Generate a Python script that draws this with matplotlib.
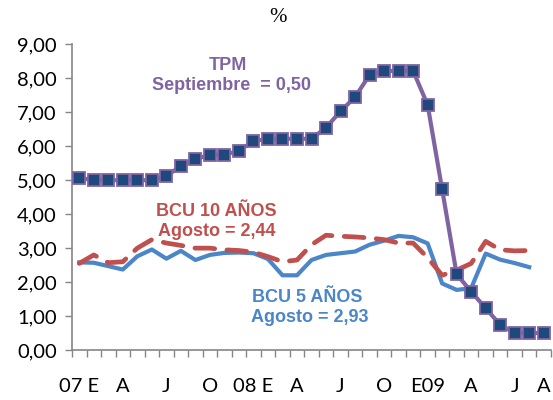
import matplotlib
matplotlib.use("Agg")
import matplotlib.pyplot as plt
from matplotlib.ticker import FixedLocator, FuncFormatter

# Monthly categories, Jan 2007 - Sep 2009
month_labels = ["07 E", "", "", "A", "", "", "J", "", "", "O", "", "",
                "08 E", "", "", "A", "", "", "J", "", "", "O", "", "",
                "E09", "", "", "A", "", "", "J", "", "A"]

# Tasa de política monetaria (%)
tpm = [5.07, 5.00, 5.00, 5.00, 5.00, 5.00, 5.12, 5.42, 5.62, 5.75, 5.75, 5.87,
       6.15, 6.22, 6.22, 6.22, 6.22, 6.55, 7.03, 7.45, 8.10, 8.22, 8.22, 8.22,
       7.22, 4.73, 2.23, 1.72, 1.23, 0.74, 0.50, 0.50, 0.50]

# BCU 10 años (%)
bcu10 = [2.55, 2.80, 2.57, 2.60, 3.00, 3.25, 3.15, 3.08, 3.00, 3.00, 2.95, 2.93,
         2.88, 2.75, 2.60, 2.65, 3.10, 3.38, 3.35, 3.33, 3.30, 3.25, 3.15, 3.15,
         2.72, 2.20, 2.35, 2.55, 3.20, 2.95, 2.92, 2.93]

# BCU 5 años (%)
bcu5 = [2.58, 2.57, 2.47, 2.37, 2.76, 2.96, 2.69, 2.92, 2.65, 2.80, 2.86, 2.87,
        2.85, 2.68, 2.20, 2.20, 2.65, 2.80, 2.85, 2.90, 3.10, 3.22, 3.36, 3.32,
        3.14, 1.96, 1.77, 1.82, 2.84, 2.66, 2.56, 2.44]

purple = "#8064A2"
navy = "#1F497D"
red = "#C0504D"
blue = "#4A86C8"
axis_grey = "#868686"

fig = plt.figure(figsize=(5.53, 4.0), dpi=100)
ax = fig.add_axes([0.1302, 0.125, 0.8662, 0.764])

x_all = list(range(len(month_labels)))

ax.plot(range(len(bcu5)), bcu5, color=blue, lw=3.0, solid_joinstyle="round", zorder=2)
ax.plot(range(len(bcu10)), bcu10, color=red, lw=3.4, dashes=(4.2, 2.6),
        dash_capstyle="round", zorder=2)
ax.plot(range(len(tpm)), tpm, color=purple, lw=3.0, marker="s", ms=8.2,
        mfc=navy, mec=purple, mew=1.3, zorder=3)

ax.set_xlim(-0.5, len(month_labels) - 0.5)
ax.set_ylim(0, 9)

# category labels centred, tick marks on category boundaries
ax.xaxis.set_major_locator(FixedLocator(x_all))
ax.set_xticklabels(month_labels)
ax.xaxis.set_minor_locator(FixedLocator([i - 0.5 for i in range(len(month_labels) + 1)]))
ax.tick_params(axis="x", which="major", length=0, pad=20)
ax.tick_params(axis="x", which="minor", length=5, width=1.0, color=axis_grey, direction="out")

ax.yaxis.set_major_locator(FixedLocator(range(0, 10)))
ax.yaxis.set_major_formatter(FuncFormatter(lambda v, _: f"{v:.2f}".replace(".", ",")))
ax.tick_params(axis="y", length=5, width=1.0, color=axis_grey, direction="out", pad=6)

for lab in ax.get_xticklabels() + ax.get_yticklabels():
    lab.set_fontfamily("Lato")
    lab.set_fontsize(14.5)
    lab.set_color("#000000")

for side in ("top", "right"):
    ax.spines[side].set_visible(False)
for side in ("left", "bottom"):
    ax.spines[side].set_color(axis_grey)
    ax.spines[side].set_linewidth(1.2)

fig.text(0.503, 0.955, "%", ha="center", va="center", fontsize=15,
         family="Liberation Serif", color="#000000")

ann = dict(ha="center", va="center", fontweight="bold", family="Liberation Sans",
           fontsize=13)
fig.text(228 / 553, 1 - 65 / 400, "TPM", color=purple, **ann)
fig.text(231 / 553, 1 - 86 / 400, "Septiembre  = 0,50", color=purple, **ann)
fig.text(216 / 553, 1 - 212 / 400, "BCU 10 AÑOS", color=red, **ann)
fig.text(217 / 553, 1 - 232 / 400, "Agosto = 2,44", color=red, **ann)
fig.text(307 / 553, 1 - 297 / 400, "BCU 5 AÑOS", color=blue, **ann)
fig.text(310 / 553, 1 - 317 / 400, "Agosto = 2,93", color=blue, **ann)

fig.savefig("out.png", dpi=100)
